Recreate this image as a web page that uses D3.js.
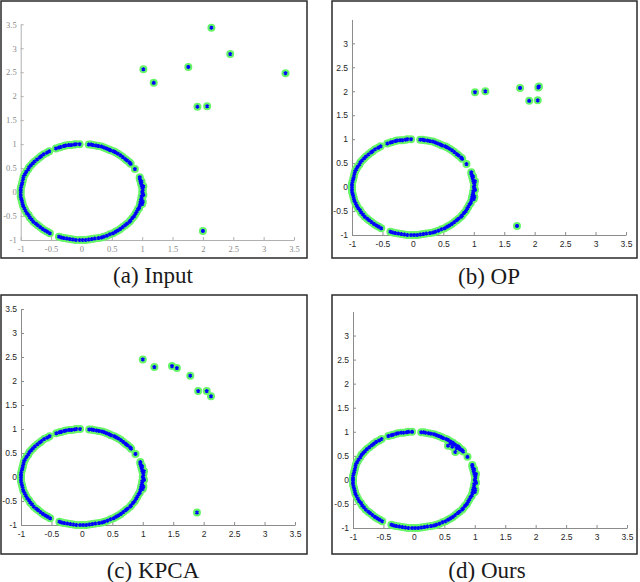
<!DOCTYPE html>
<html>
<head>
<meta charset="utf-8">
<script src="https://cdn.jsdelivr.net/npm/d3@7"></script>
<style>
  body { margin: 0; background: #fff; }
  svg { display: block; }
</style>
</head>
<body>
<div id="chart"></div>
<script>
// ticks
const xTicks = [-1, -0.5, 0, 0.5, 1, 1.5, 2, 2.5, 3, 3.5];
const yTicksFull = [-1, -0.5, 0, 0.5, 1, 1.5, 2, 2.5, 3, 3.5];
const yTicksShort = [-1, -0.5, 0, 0.5, 1, 1.5, 2, 2.5, 3];

// inliers on the unit circle (same in every panel)
const inliers = [
  // top right arc
  [0.12, 0.99], [0.16, 0.99], [0.19, 0.98], [0.24, 0.97], [0.28, 0.96], [0.33, 0.95],
  [0.37, 0.93], [0.41, 0.91], [0.45, 0.89], [0.48, 0.87], [0.53, 0.85], [0.56, 0.83],
  [0.60, 0.80], [0.64, 0.77], [0.68, 0.73], [0.72, 0.69], [0.75, 0.66], [0.79, 0.62],
  [0.81, 0.59], [0.88, 0.48],
  // right and bottom arc
  [0.96, 0.31], [0.96, 0.28], [0.97, 0.24], [0.98, 0.19], [0.99, 0.14], [1.00, 0.10],
  [1.01, 0.05], [1.00, 0.00], [1.01, -0.03], [0.99, -0.09], [0.99, -0.14], [0.98, -0.17],
  [0.97, -0.22], [0.96, -0.28], [0.95, -0.33], [0.93, -0.36], [0.91, -0.41], [0.89, -0.45],
  [0.87, -0.50], [0.84, -0.54], [0.81, -0.59], [0.79, -0.62], [0.75, -0.66], [0.72, -0.69],
  [0.68, -0.73], [0.64, -0.77], [0.60, -0.80], [0.56, -0.83], [0.52, -0.86], [0.47, -0.88],
  [0.42, -0.91], [0.37, -0.93], [0.33, -0.95], [0.28, -0.96], [0.22, -0.97], [0.17, -0.98],
  [0.12, -0.99], [0.07, -1.00], [0.02, -1.00], [-0.03, -1.00], [-0.09, -1.00], [-0.14, -0.99],
  [-0.19, -0.98], [-0.24, -0.97], [-0.29, -0.96], [-0.33, -0.95], [-0.37, -0.93],
  [1.02, 0.12], [1.02, -0.06], [1.01, -0.20], [0.99, 0.22], [1.00, -0.25],
  // left arc
  [-0.52, -0.86], [-0.56, -0.83], [-0.60, -0.80], [-0.64, -0.77], [-0.68, -0.73], [-0.72, -0.69],
  [-0.75, -0.66], [-0.79, -0.62], [-0.82, -0.57], [-0.85, -0.53], [-0.87, -0.48], [-0.90, -0.44],
  [-0.92, -0.39], [-0.94, -0.34], [-0.96, -0.29], [-0.97, -0.24], [-0.98, -0.19], [-0.99, -0.14],
  [-1.00, -0.09], [-1.00, -0.03], [-1.00, 0.02], [-1.00, 0.07], [-0.99, 0.12], [-0.98, 0.17],
  [-0.97, 0.22], [-0.96, 0.28], [-0.95, 0.33], [-0.93, 0.37], [-0.91, 0.42], [-0.88, 0.47],
  [-0.86, 0.52], [-0.83, 0.56], [-0.80, 0.60], [-0.77, 0.64], [-0.73, 0.68], [-0.69, 0.72],
  [-0.66, 0.75], [-0.62, 0.79], [-0.57, 0.82], [-0.53, 0.85],
  // top left arc
  [-0.42, 0.91], [-0.37, 0.93], [-0.34, 0.94], [-0.29, 0.96], [-0.26, 0.97], [-0.21, 0.98],
  [-0.17, 0.98], [-0.12, 0.99], [-0.09, 1.00], [-0.03, 1.00]
];

// outliers, per method
const outliersInput = [
  [1.02, 2.56], [1.19, 2.28], [1.76, 2.61], [2.14, 3.43], [2.45, 2.88],
  [3.36, 2.48], [1.91, 1.78], [2.07, 1.79], [2.00, -0.81]
];
const outliersOP = [
  [1.02, 1.98], [1.19, 2.00], [1.76, 2.07], [2.06, 2.08], [2.07, 2.10],
  [1.91, 1.80], [2.05, 1.81], [1.71, -0.81]
];
const outliersKPCA = [
  [1.00, 2.45], [1.19, 2.29], [1.48, 2.31], [1.56, 2.27], [1.78, 2.11],
  [1.91, 1.79], [2.05, 1.79], [2.12, 1.68], [1.89, -0.74]
];
const outliersOurs = [
  [0.56, 0.71], [0.63, 0.69], [0.68, 0.58], [0.66, 0.74], [0.72, 0.70],
  [0.70, 0.66], [0.76, 0.63], [0.60, 0.76], [0.74, 0.67]
];

const captions = ["(a) Input", "(b) OP", "(c) KPCA", "(d) Ours"];

const panels = [
  { frame: [1, 1, 306, 257], xr: [20.7, 294], yr: [240, 24.3], yTicks: yTicksFull,
    cap: [153, 283], serif: true, pts: outliersInput },
  { frame: [332, 1, 305, 257], xr: [352, 626], yr: [235, 19.4], yTicks: yTicksShort,
    cap: [489, 284], serif: false, pts: outliersOP },
  { frame: [1, 295, 306, 259], xr: [21, 295], yr: [525, 309], yTicks: yTicksFull,
    cap: [153, 578], serif: false, pts: outliersKPCA },
  { frame: [332, 295, 305, 259], xr: [353, 627], yr: [528, 311.5], yTicks: yTicksShort,
    cap: [487, 578], serif: false, pts: outliersOurs }
];

const svg = d3.select("#chart").append("svg")
  .attr("width", 640)
  .attr("height", 582);

panels.forEach((p, i) => {
  const g = svg.append("g");

  // frame
  g.append("rect")
    .attr("x", p.frame[0]).attr("y", p.frame[1])
    .attr("width", p.frame[2]).attr("height", p.frame[3])
    .attr("fill", "#fff")
    .attr("stroke", "#2a2a2a")
    .attr("stroke-width", 1.5);

  const x = d3.scaleLinear().domain([-1, 3.5]).range(p.xr);
  const y = d3.scaleLinear().domain([-1, 3.5]).range(p.yr);

  const axisColor = p.serif ? "#b0b0b0" : "#8c8c8c";
  const labelColor = p.serif ? "#8a8a8a" : "#262626";
  const font = p.serif ? "'Liberation Serif', serif" : "'Liberation Sans', Arial, sans-serif";

  const xAxis = g.append("g")
    .attr("transform", `translate(0,${p.yr[0]})`)
    .call(d3.axisBottom(x).tickValues(xTicks).tickFormat(d => String(d))
      .tickSizeInner(-3).tickSizeOuter(0).tickPadding(5.5));
  const yAxis = g.append("g")
    .attr("transform", `translate(${p.xr[0]},0)`)
    .call(d3.axisLeft(y).tickValues(p.yTicks).tickFormat(d => String(d))
      .tickSizeInner(-3).tickSizeOuter(0).tickPadding(4));

  [xAxis, yAxis].forEach(a => {
    a.attr("font-family", font).attr("font-size", 8.5);
    a.selectAll("path, line").attr("stroke", axisColor);
    a.selectAll("text").attr("fill", labelColor);
  });

  const all = inliers.concat(p.pts);

  // green ring markers, then blue stars on top
  g.selectAll(".halo")
    .data(all)
    .enter()
    .append("circle")
    .attr("class", "halo")
    .attr("cx", d => x(d[0]))
    .attr("cy", d => y(d[1]))
    .attr("r", 4)
    .attr("fill", "#66f566");

  g.selectAll(".star")
    .data(all)
    .enter()
    .append("path")
    .attr("class", "star")
    .attr("transform", d => `translate(${x(d[0])},${y(d[1])})`)
    .attr("d", d3.symbol(d3.symbolAsterisk, 11))
    .attr("fill", "none")
    .attr("stroke", "#0000ff")
    .attr("stroke-width", 1.4);

  // caption
  svg.append("text")
    .attr("x", p.cap[0])
    .attr("y", p.cap[1])
    .attr("text-anchor", "middle")
    .style("font-family", "'Liberation Serif', 'Times New Roman', serif")
    .style("font-size", "23px")
    .style("fill", "#1a1a1a")
    .text(captions[i]);
});
</script>
</body>
</html>
